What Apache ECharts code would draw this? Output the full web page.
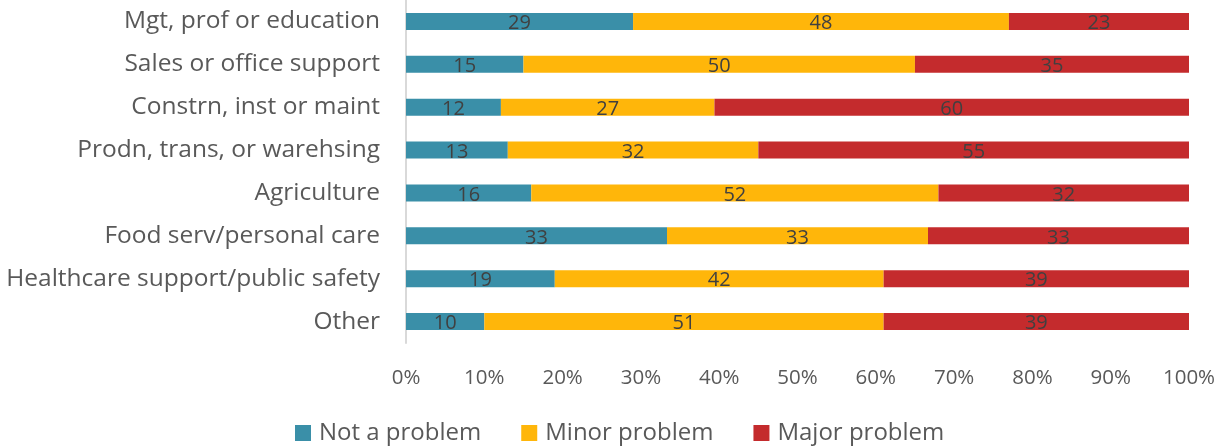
<!DOCTYPE html>
<html>
<head>
<meta charset="utf-8">
<script src="https://cdn.jsdelivr.net/npm/echarts@6/dist/echarts.min.js"></script>
<style>
  html, body { margin: 0; padding: 0; background: #fff; }
  #chart { width: 1226px; height: 448px; }
</style>
</head>
<body>
<div id="chart"></div>
<script>
// categories, top to bottom as in the picture
var categories = ['Mgt, prof or education', 'Sales or office support', 'Constrn, inst or maint',
    'Prodn, trans, or warehsing', 'Agriculture', 'Food serv/personal care',
    'Healthcare support/public safety', 'Other'];
var notProblem   = [29, 15, 12, 13, 16, 33, 19, 10];
var minorProblem = [48, 50, 27, 32, 52, 33, 42, 51];
var majorProblem = [23, 35, 60, 55, 32, 33, 39, 39];
var seriesNames  = ['Not a problem', 'Minor problem', 'Major problem'];
var colors       = ['#3A8FA8', '#FFB60A', '#C42B2D'];
var xTicks       = [0, 10, 20, 30, 40, 50, 60, 70, 80, 90, 100];

var raw = [notProblem, minorProblem, majorProblem];

// 100% stacked: each row normalised by its own total (like excel)
function toPct(arr) {
    return arr.map(function (v, i) {
        var tot = notProblem[i] + minorProblem[i] + majorProblem[i];
        return { value: v / tot * 100, raw: v };
    });
}

var font = '"Open Sans", sans-serif';

var series = raw.map(function (arr, k) {
    return {
        name: seriesNames[k],
        type: 'bar',
        stack: 'all',
        barWidth: 17,
        itemStyle: { color: colors[k] },
        label: {
            show: true,
            position: 'inside',
            offset: [0, 2],
            color: '#404040',
            fontFamily: font,
            fontSize: 20,
            formatter: function (p) { return p.data.raw; }
        },
        data: toPct(arr)
    };
});

var myChart = echarts.init(document.getElementById('chart'));
var option = {
    animation: false,
    grid: { left: 406, right: 37, top: 0, height: 343, containLabel: false },
    legend: {
        top: 421,
        left: 295,
        itemWidth: 16,
        itemHeight: 16,
        itemGap: 40,
        icon: 'rect',
        padding: 0,
        textStyle: { color: '#595959', fontSize: 24, fontFamily: font, padding: [0, 0, 0, 3] },
        data: seriesNames
    },
    xAxis: {
        type: 'value',
        min: 0,
        max: 100,
        interval: 10,
        axisLine: { show: false },
        axisTick: { show: false },
        splitLine: { show: false },
        axisLabel: {
            color: '#595959',
            fontSize: 20.5,
            fontFamily: font,
            margin: 25,
            formatter: function (v) { return xTicks.indexOf(v) >= 0 ? v + '%' : ''; }
        }
    },
    yAxis: {
        type: 'category',
        inverse: true,
        data: categories,
        axisLine: { show: true, lineStyle: { color: '#D9D9D9', width: 2 } },
        axisTick: { show: false },
        axisLabel: {
            color: '#595959',
            fontSize: 24.5,
            fontFamily: font,
            margin: 26
        }
    },
    series: series
};

// 使用刚指定的配置项和数据显示图表。
myChart.setOption(option);
</script>
</body>
</html>
